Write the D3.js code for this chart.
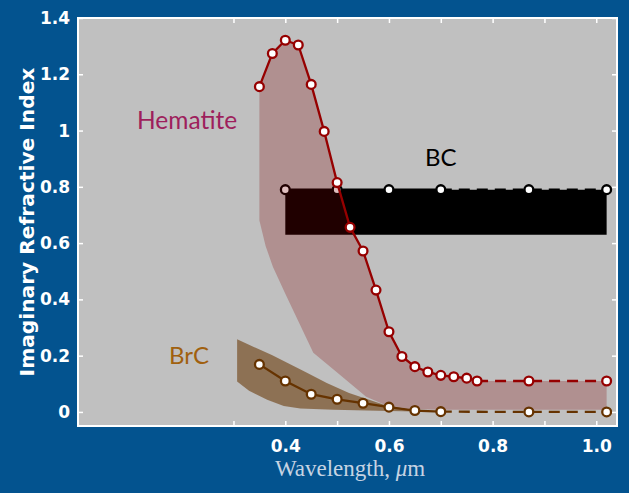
<!DOCTYPE html>
<html>
<head>
<meta charset="utf-8">
<script src="https://cdn.jsdelivr.net/npm/d3@7"></script>
<style>
  html, body { margin: 0; padding: 0; background: #03538f; }
  svg { display: block; }
</style>
</head>
<body>
<script>
// ---------------- data ----------------
const hemWl = [0.35,0.375,0.40,0.425,0.45,0.475,0.50,0.525,0.55,0.575,0.60,0.625,0.65,0.675,0.70,0.725,0.75,0.77];
const hemK  = [1.156,1.274,1.321,1.304,1.164,0.997,0.815,0.656,0.572,0.433,0.285,0.197,0.161,0.142,0.130,0.125,0.120,0.110];
const hemExtWl = [0.77,0.87,1.02];
const hemExtK  = [0.110,0.110,0.110];
const hemLowWl = [0.35,0.35,0.362,0.376,0.40,0.427,0.454,0.50,0.556,0.593,0.64,0.70,1.02];
const hemLowK  = [1.156,0.68,0.59,0.516,0.42,0.315,0.21,0.14,0.054,0.025,0.01,0.008,0.008];

const bcWl = [0.40,0.50,0.60,0.70];
const bcK  = [0.79,0.79,0.79,0.79];
const bcExtWl = [0.70,0.87,1.02];
const bcExtK  = [0.79,0.79,0.79];
const bcBandWl = [0.40,1.02];
const bcBandHigh = [0.79,0.79];
const bcBandLow  = [0.63,0.63];

const brcWl = [0.35,0.40,0.45,0.50,0.55,0.60,0.65,0.70];
const brcK  = [0.169,0.110,0.063,0.045,0.031,0.017,0.005,0.001];
const brcExtWl = [0.70,0.87,1.02];
const brcExtK  = [0.001,0.0,0.0];
const brcUpWl = [0.307,0.374,0.438,0.48,0.523,0.592,0.65,0.70];
const brcUpK  = [0.258,0.202,0.143,0.103,0.067,0.025,0.006,0.0];
const brcLowWl = [0.307,0.33,0.365,0.397,0.429,0.493,0.60,0.70];
const brcLowK  = [0.108,0.075,0.043,0.021,0.012,0.008,0.003,0.0];

const xTicks = [0.3,0.4,0.5,0.6,0.7,0.8,0.9,1.0];
const xTickLabels = ["","0.4","","0.6","","0.8","","1.0"];
const yTicks = [0,0.2,0.4,0.6,0.8,1,1.2,1.4];
const yTickLabels = ["0","0.2","0.4","0.6","0.8","1","1.2","1.4"];

// ---------------- layout ----------------
const W = 629, H = 493;
const L = 78, R = 617, T = 18, B = 426;

const svg = d3.select("body").append("svg").attr("width", W).attr("height", H);
svg.append("rect").attr("width", W).attr("height", H).attr("fill", "#03538f");

const x = d3.scaleLinear().domain([0, 1.04]).range([L, R]);
const y = d3.scaleLinear().domain([-0.05, 1.4]).range([B, T]);

svg.append("rect").attr("x", L).attr("y", T).attr("width", R - L).attr("height", B - T)
  .attr("fill", "#c0c0c0");

const zip = (a, b) => a.map((v, i) => [v, b[i]]);
const line = d3.line().x(d => x(d[0])).y(d => y(d[1]));
const LW = 2.3, MR = 4.4, MW = 2.3, DASH = "11,7";

// BC band
svg.append("path")
  .datum(bcBandWl.map((w, i) => ({w, lo: bcBandLow[i], hi: bcBandHigh[i]})))
  .attr("d", d3.area().x(d => x(d.w)).y0(d => y(d.lo)).y1(d => y(d.hi)))
  .attr("fill", "#000");

// BC line + points
svg.append("path").datum(zip(bcWl, bcK)).attr("d", line)
  .attr("fill", "none").attr("stroke", "#000").attr("stroke-width", LW);
svg.append("path").datum(zip(bcExtWl, bcExtK)).attr("d", line)
  .attr("fill", "none").attr("stroke", "#000").attr("stroke-width", LW).attr("stroke-dasharray", DASH);
svg.append("g").selectAll("circle").data(zip(bcWl.concat(bcExtWl.slice(1)), bcK.concat(bcExtK.slice(1))))
  .join("circle").attr("cx", d => x(d[0])).attr("cy", d => y(d[1])).attr("r", MR)
  .attr("fill", "#fff").attr("stroke", "#000").attr("stroke-width", MW);

// Hematite band
const hemUpper = zip(hemWl, hemK).concat(zip(hemExtWl.slice(1), hemExtK.slice(1)));
const hemLower = zip(hemLowWl, hemLowK).reverse();
svg.append("path")
  .attr("d", line(hemUpper.concat(hemLower)) + "Z")
  .attr("fill", "#800000").attr("fill-opacity", 0.25);

// BrC band
const brcBand = zip(brcUpWl, brcUpK).concat(zip(brcLowWl, brcLowK).reverse());
svg.append("path")
  .attr("d", line(brcBand) + "Z")
  .attr("fill", "#663300").attr("fill-opacity", 0.56);

// BrC line + points
svg.append("path").datum(zip(brcWl, brcK)).attr("d", line)
  .attr("fill", "none").attr("stroke", "#663300").attr("stroke-width", LW);
svg.append("path").datum(zip(brcExtWl, brcExtK)).attr("d", line)
  .attr("fill", "none").attr("stroke", "#663300").attr("stroke-width", LW).attr("stroke-dasharray", DASH);
svg.append("g").selectAll("circle").data(zip(brcWl.concat(brcExtWl.slice(1)), brcK.concat(brcExtK.slice(1))))
  .join("circle").attr("cx", d => x(d[0])).attr("cy", d => y(d[1])).attr("r", MR)
  .attr("fill", "#fff").attr("stroke", "#663300").attr("stroke-width", MW);

// Hematite line + points
svg.append("path").datum(zip(hemWl, hemK)).attr("d", line)
  .attr("fill", "none").attr("stroke", "#960000").attr("stroke-width", LW);
svg.append("path").datum(zip(hemExtWl, hemExtK)).attr("d", line)
  .attr("fill", "none").attr("stroke", "#960000").attr("stroke-width", LW).attr("stroke-dasharray", DASH);
svg.append("g").selectAll("circle").data(zip(hemWl.concat(hemExtWl.slice(1)), hemK.concat(hemExtK.slice(1))))
  .join("circle").attr("cx", d => x(d[0])).attr("cy", d => y(d[1])).attr("r", MR)
  .attr("fill", "#fff").attr("stroke", "#960000").attr("stroke-width", MW);

// frame
svg.append("rect").attr("x", L).attr("y", T).attr("width", R - L).attr("height", B - T)
  .attr("fill", "none").attr("stroke", "#fff").attr("stroke-width", 2);

// axes
const tickFont = "'DejaVu Sans', sans-serif";
function styleAxis(g) {
  g.select(".domain").remove();
  g.selectAll(".tick line").attr("stroke", "#fff").attr("stroke-width", 1.5);
  g.selectAll(".tick text").attr("fill", "#fff").attr("font-family", tickFont)
    .attr("font-weight", "bold").attr("font-size", 17);
}
svg.append("g").attr("transform", `translate(${L},0)`)
  .call(d3.axisLeft(y).tickValues(yTicks).tickFormat((d, i) => yTickLabels[i]).tickSizeInner(-5).tickSizeOuter(0).tickPadding(8))
  .call(styleAxis);
svg.append("g").attr("transform", `translate(${R},0)`)
  .call(d3.axisRight(y).tickValues(yTicks).tickFormat("").tickSizeInner(-5).tickSizeOuter(0))
  .call(styleAxis);
svg.append("g").attr("transform", `translate(0,${B})`)
  .call(d3.axisBottom(x).tickValues(xTicks).tickFormat((d, i) => xTickLabels[i]).tickSizeInner(-5).tickSizeOuter(0).tickPadding(14))
  .call(styleAxis);
svg.append("g").attr("transform", `translate(0,${T})`)
  .call(d3.axisTop(x).tickValues(xTicks).tickFormat("").tickSizeInner(-5).tickSizeOuter(0))
  .call(styleAxis);

// axis titles
svg.append("text")
  .attr("transform", `translate(34,${(T + 412) / 2 + 7}) rotate(-90)`)
  .attr("text-anchor", "middle")
  .attr("fill", "#fff").attr("font-family", tickFont).attr("font-weight", "bold").attr("font-size", 20.2)
  .text("Imaginary Refractive Index");

const xt = svg.append("text")
  .attr("x", 350).attr("y", 476).attr("text-anchor", "middle")
  .attr("fill", "#c6d3e3").attr("font-family", "'Liberation Serif', serif").attr("font-size", 23);
xt.append("tspan").text("Wavelength, ");
xt.append("tspan").attr("font-style", "italic").text("\u03bc");
xt.append("tspan").text("m");

// series labels
const labFont = "'Comic Sans MS', Lato, sans-serif";
svg.append("text").attr("x", 137).attr("y", 129).attr("fill", "#9e1f5c")
  .attr("font-family", labFont).attr("font-size", 24.5).text("Hematite");
svg.append("text").attr("x", 425).attr("y", 166).attr("fill", "#000")
  .attr("font-family", labFont).attr("font-size", 24).text("BC");
svg.append("text").attr("x", 169).attr("y", 364).attr("fill", "#a0600f")
  .attr("font-family", labFont).attr("font-size", 24).text("BrC");
</script>
</body>
</html>
